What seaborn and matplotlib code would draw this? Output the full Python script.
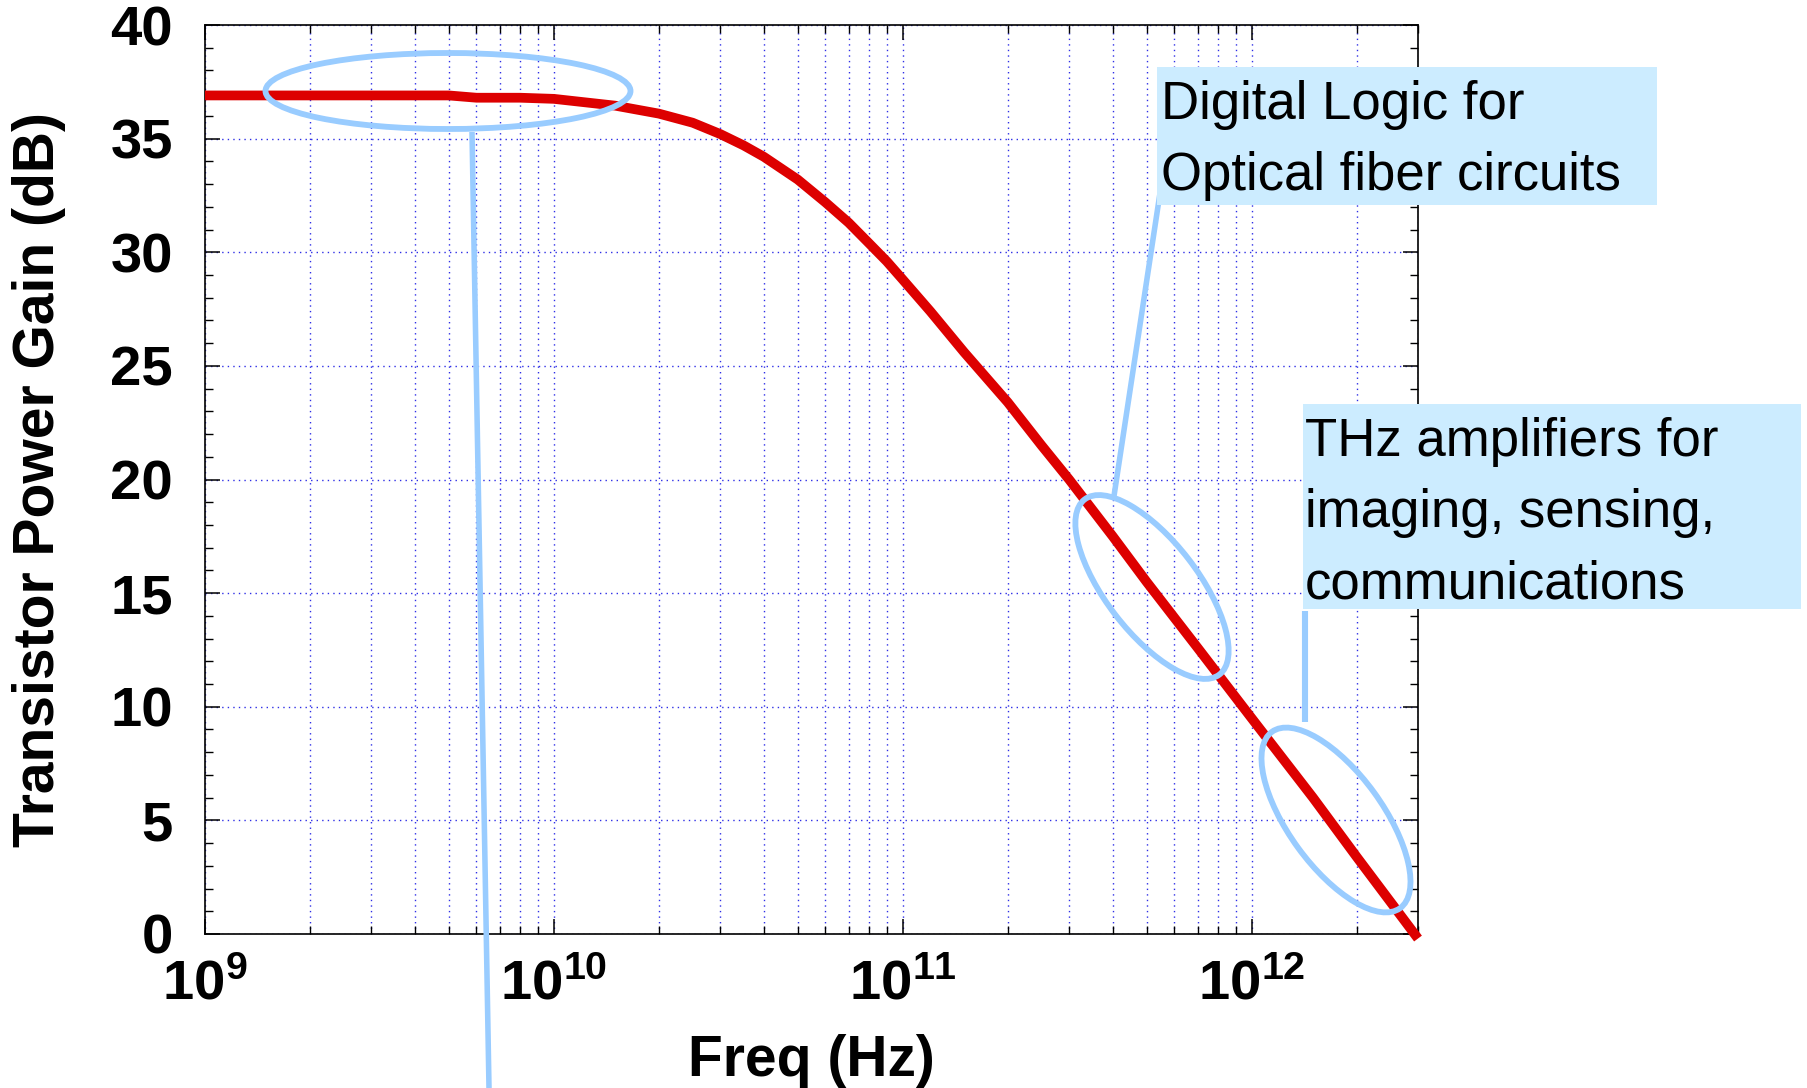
import numpy as np
import pandas as pd
import matplotlib
matplotlib.use("Agg")
import matplotlib.pyplot as plt
import seaborn as sns
from matplotlib.patches import Ellipse, Rectangle
from matplotlib.lines import Line2D
from matplotlib.transforms import IdentityTransform
from matplotlib.ticker import FixedLocator, LogLocator, NullFormatter, MultipleLocator

# ---------------- data ----------------
freq_hz = [1e9, 2e9, 3e9, 4e9, 5e9, 6e9, 8e9, 1e10, 1.5e10, 2e10, 2.5e10, 3e10,
           3.5e10, 4e10, 5e10, 6e10, 7e10, 8e10, 9e10, 1e11, 1.2e11, 1.5e11, 2e11,
           2.5e11, 3e11, 4e11, 5e11, 7e11, 1e12, 1.5e12, 2e12, 3e12]
gain_db = [36.9, 36.9, 36.9, 36.9, 36.9, 36.8, 36.8, 36.75, 36.45, 36.1, 35.7, 35.2,
           34.7, 34.2, 33.2, 32.2, 31.3, 30.4, 29.6, 28.8, 27.4, 25.6, 23.4,
           21.5, 20.0, 17.5, 15.5, 12.6, 9.5, 6.0, 3.4, -0.2]
x_ticks = [1e9, 1e10, 1e11, 1e12]
x_tick_labels = [r"$\mathbf{10^{9}}$", r"$\mathbf{10^{10}}$", r"$\mathbf{10^{11}}$", r"$\mathbf{10^{12}}$"]
y_ticks = [0, 5, 10, 15, 20, 25, 30, 35, 40]
y_tick_labels = ["0", "5", "10", "15", "20", "25", "30", "35", "40"]
x_label = "Freq (Hz)"
y_label = "Transistor Power Gain (dB)"
note_logic = "Digital Logic for\nOptical fiber circuits"
note_thz = "THz amplifiers for\nimaging, sensing,\ncommunications"

# ---------------- style ----------------
W, H, DPI = 1808, 1088, 100
sns.set_theme(style="ticks")
plt.rcParams["font.family"] = ["Liberation Sans", "DejaVu Sans"]
plt.rcParams["mathtext.fontset"] = "custom"
plt.rcParams["mathtext.bf"] = "Liberation Sans:bold"
plt.rcParams["mathtext.rm"] = "Liberation Sans"

RED = "#DD0000"
LBLUE = "#99CCFF"
BOXBG = "#CCECFF"
GRID = "#2E2EE6"

fig = plt.figure(figsize=(W / DPI, H / DPI), dpi=DPI)
fig.patch.set_facecolor("white")
ax = fig.add_axes([205 / W, 1 - 934 / H, (1418 - 205) / W, (934 - 25) / H])
ax.set_facecolor("white")
ax.set_xscale("log")

df = pd.DataFrame({"freq": freq_hz, "gain": gain_db})
sns.lineplot(data=df, x="freq", y="gain", ax=ax, color=RED, linewidth=7.0,
             clip_on=False, zorder=5, sort=True, estimator=None)
for ln in ax.lines:
    ln.set_solid_capstyle("butt")
    ln.set_solid_joinstyle("round")

ax.set_xlim(1e9, 3e12)
ax.set_ylim(0, 40)

ax.xaxis.set_major_locator(FixedLocator(x_ticks))
ax.set_xticklabels(x_tick_labels, fontsize=40.5)
ax.xaxis.set_minor_locator(LogLocator(base=10, subs=np.arange(2, 10), numticks=50))
ax.xaxis.set_minor_formatter(NullFormatter())
ax.yaxis.set_major_locator(FixedLocator(y_ticks))
ax.set_yticklabels(y_tick_labels, fontsize=40.5, fontweight="bold")
ax.yaxis.set_minor_locator(MultipleLocator(1))

ax.tick_params(which="both", direction="in", top=True, right=True, colors="black")
ax.tick_params(which="major", length=11, width=1.1)
ax.tick_params(which="minor", length=5.5, width=1.0)
ax.tick_params(axis="y", which="major", pad=23)
ax.tick_params(axis="x", which="major", pad=18)

ax.grid(which="major", axis="both", color=GRID, linestyle=(0, (1, 3)), linewidth=1.0)
ax.grid(which="minor", axis="x", color=GRID, linestyle=(0, (1, 3)), linewidth=1.0)
ax.set_axisbelow(True)
for s in ax.spines.values():
    s.set_color("black")
    s.set_linewidth(1.2)
    s.set_visible(True)

ax.set_xlabel(x_label, fontsize=41, fontweight="bold", color="black")
ax.xaxis.set_label_coords(0.5, -0.11)
ax.set_ylabel(y_label, fontsize=41, fontweight="bold", color="black")
ax.yaxis.set_label_coords(-0.115, 0.5)

# ---------------- annotations (pixel positions, origin top-left) ----------------
ID = IdentityTransform()


def P(x, y):
    return (x, H - y)


def ell(cx, cy, w, h, ang):
    e = Ellipse(P(cx, cy), w, h, angle=ang, fill=False, edgecolor=LBLUE,
                linewidth=4.2, transform=ID, zorder=6)
    fig.add_artist(e)


def seg(x0, y0, x1, y1, lw=4.0):
    a, b = P(x0, y0), P(x1, y1)
    fig.add_artist(Line2D([a[0], b[0]], [a[1], b[1]], color=LBLUE, linewidth=lw,
                          transform=ID, zorder=6, solid_capstyle="butt"))


def box(x0, y0, x1, y1):
    fig.add_artist(Rectangle(P(x0, y1), x1 - x0, y1 - y0, facecolor=BOXBG,
                             edgecolor="none", transform=ID, zorder=7))


ell(448, 91, 365, 76, 0)
seg(472, 132, 489, 1088)
ell(1152, 587, 221, 92, -52.4)
ell(1336, 820, 218, 94, -54)

NOTE_FONT = dict(fontsize=38, family=["Liberation Sans", "DejaVu Sans"], color="black",
                 linespacing=1.55, zorder=8, ha="left", va="top")

box(1157, 67, 1657, 205)
seg(1162, 180, 1114, 496)
fig.text(*P(1161, 80), note_logic, transform=ID, **NOTE_FONT)

box(1303, 404, 1801, 609)
seg(1305, 611, 1305, 722, lw=4.4)
fig.text(*P(1305, 417), note_thz, transform=ID, **NOTE_FONT)

fig.savefig("out.png", dpi=DPI, facecolor="white")
